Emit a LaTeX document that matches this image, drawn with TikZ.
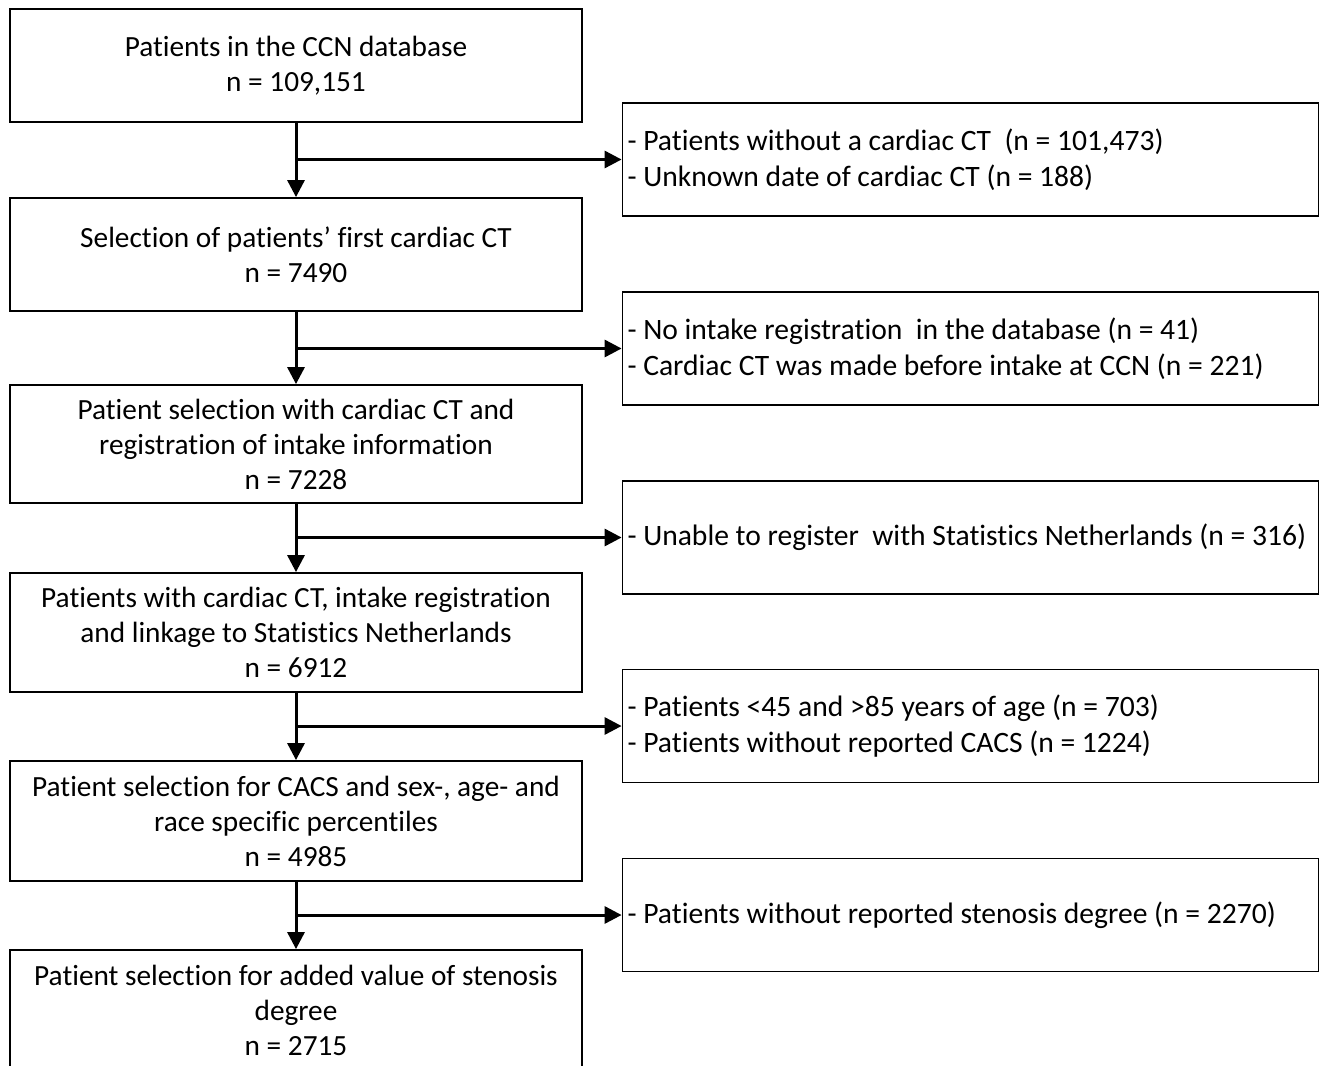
\documentclass[tikz,border=0pt]{standalone}
\usepackage{fontspec}
\setmainfont{Carlito}[Ligatures={NoCommon}]
\usetikzlibrary{arrows.meta}
\begin{document}
\begin{tikzpicture}[x=1pt,y=-1pt,
  lbox/.style={draw,line width=1.8pt,minimum width=572pt,align=center,inner sep=0pt,
    font=\fontsize{29.3}{35}\selectfont},
  rbox/.style={draw,line width=1.8pt,minimum width=695pt,minimum height=113pt,text width=686pt,
    align=flush left,inner xsep=5pt,inner ysep=4pt,font=\fontsize{29.6}{36}\selectfont},
  flow/.style={line width=3pt,-{Triangle[length=17pt,width=17pt]}}]
\useasboundingbox (0,0) rectangle (1319,1065);
\clip (0,0) rectangle (1319,1065);
\node[lbox,minimum height=113pt] (b1) at (296,65.5) {Patients in the CCN database\\n = 109,151};
\node[lbox,minimum height=113pt] (b2) at (296,254.5) {Selection of patients’ first cardiac CT\\n = 7490};
\node[lbox,minimum height=118pt] (b3) at (296,444) {Patient selection with cardiac CT and\\registration of intake information\\n = 7228};
\node[lbox,minimum height=119pt] (b4) at (296,632.5) {Patients with cardiac CT, intake registration\\and linkage to Statistics Netherlands\\n = 6912};
\node[lbox,minimum height=120pt] (b5) at (296,821) {Patient selection for CACS and sex-, age- and\\race specific percentiles\\n = 4985};
\node[lbox,minimum height=120pt] (b6) at (296,1010) {Patient selection for added value of stenosis\\degree\\n = 2715};
\node[rbox] (r1) at (970.5,159.5) {- Patients without a cardiac CT\ \ (n = 101,473)\\- Unknown date of cardiac CT (n = 188)};
\node[rbox] (r2) at (970.5,348.5) {- No intake registration\ \ in the database (n = 41)\\- Cardiac CT was made before intake at CCN (n = 221)};
\node[rbox] (r3) at (970.5,537.5) {- Unable to register\ \ with Statistics Netherlands (n = 316)};
\node[rbox] (r4) at (970.5,726) {- Patients <45 and >85 years of age (n = 703)\\- Patients without reported CACS (n = 1224)};
\node[rbox] (r5) at (970.5,915) {- Patients without reported stenosis degree (n = 2270)};
\foreach \a/\b/\r in {b1/b2/r1,b2/b3/r2,b3/b4/r3,b4/b5/r4,b5/b6/r5}{
  \coordinate (j\r) at (\a.south |- \r.west);
  \draw[flow] (\a.south) -- (\b.north);
  \draw[flow] (j\r) -- (\r.west);
}
\end{tikzpicture}
\end{document}
